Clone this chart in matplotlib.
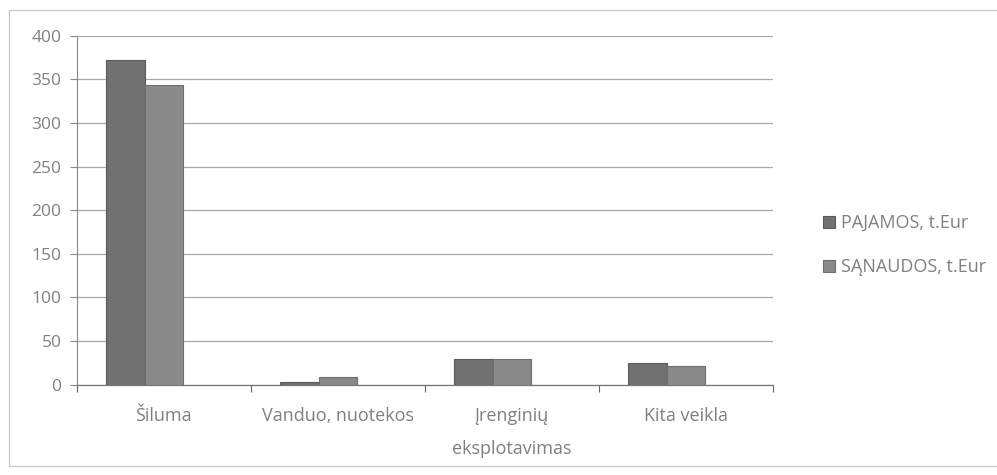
import numpy as np
import matplotlib; matplotlib.use('Agg')
import matplotlib.pyplot as plt
from matplotlib.patches import Rectangle

categories = ['Šiluma', 'Vanduo, nuotekos', 'Įrenginių\neksplotavimas', 'Kita veikla']
pajamos = [372, 3, 30, 25]
sanaudos = [344, 9, 30, 22]
series_names = ['PAJAMOS, t.Eur', 'SĄNAUDOS, t.Eur']
yticks = [0, 50, 100, 150, 200, 250, 300, 350, 400]

plt.rcParams['font.family'] = ['Open Sans', 'DejaVu Sans']
txt = '#808080'

fig = plt.figure(figsize=(9.97, 4.75), dpi=100)
ax = fig.add_axes([0.077, 0.19, 0.698, 0.735])

x = np.arange(len(categories))
w = 0.22
shift = -0.11  # bars sit a bit left of the category centre in the scan
ax.bar(x + shift - w/2, pajamos, w, color='#717171', edgecolor='#5a5a5a', lw=0.8,
       label=series_names[0], zorder=3)
ax.bar(x + shift + w/2, sanaudos, w, color='#8a8a8a', edgecolor='#6e6e6e', lw=0.8,
       label=series_names[1], zorder=3)

ax.set_xlim(-0.5, 3.5)
ax.set_ylim(0, 400)
ax.set_yticks(yticks)
ax.set_yticklabels([str(v) for v in yticks], fontsize=12.5, color=txt)
ax.yaxis.grid(True, color='#a8a8a8', lw=0.9, zorder=0)
ax.tick_params(axis='y', length=5, width=0.8, color='#888', pad=6)

ax.set_xticks(x)
ax.set_xticklabels(categories, fontsize=13, color=txt, linespacing=2.1)
ax.set_xticks(np.arange(-0.5, 4.0, 1.0), minor=True)
ax.tick_params(axis='x', which='major', length=0, pad=16)
ax.tick_params(axis='x', which='minor', length=5, width=0.8, color='#666')

for s in ['top', 'right']:
    ax.spines[s].set_visible(False)
ax.spines['left'].set_color('#888')
ax.spines['left'].set_linewidth(0.8)
ax.spines['bottom'].set_color('#777')
ax.spines['bottom'].set_linewidth(0.9)

leg = ax.legend(loc='center left', bbox_to_anchor=(823/997, (475-245)/475),
                bbox_transform=fig.transFigure, frameon=False, borderpad=0,
                borderaxespad=0, fontsize=13, handlelength=0.65, handleheight=0.65,
                handletextpad=0.35, labelspacing=1.45, labelcolor=txt)

fig.patches.append(Rectangle((9/997, 9/475), 1.2, 456/475, transform=fig.transFigure,
                             fill=False, edgecolor='#c8c8c8', lw=0.9))

fig.savefig('out.png', dpi=100)
print("figure saved")
